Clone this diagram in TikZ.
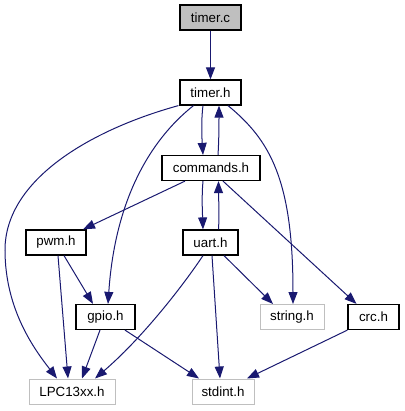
\documentclass[tikz,border=0pt]{standalone}
\usepackage{fontspec}
\setmainfont{Liberation Sans}
\usetikzlibrary{arrows.meta}
\definecolor{edgeblue}{HTML}{191970}
\definecolor{sysgray}{HTML}{BFBFBF}

\begin{document}
\begin{tikzpicture}[x=0.75pt,y=-0.75pt,
  hdr/.style={draw=black, line width=0.9pt, minimum height=18.75pt, inner sep=0pt,
              font=\fontsize{10}{12}\selectfont},
  syshdr/.style={hdr, draw=sysgray, line width=0.75pt},
  dep/.style={draw=edgeblue, line width=0.75pt, -{Triangle[length=9pt,width=6.75pt]}}]

\useasboundingbox (0,0) rectangle (404,411);

% headers and source file
\node[hdr, fill=sysgray, minimum width=45.75pt] (tc) at (210.5,17.5) {timer.c};
\node[hdr, minimum width=45.75pt] (th) at (210.5,92.5) {timer.h};
\node[hdr, minimum width=73.5pt] (cmd) at (211,168) {commands.h};
\node[hdr, minimum width=45pt] (pwm) at (56,242.5) {pwm.h};
\node[hdr, minimum width=41.25pt] (uart) at (210.5,242.5) {uart.h};
\node[hdr, minimum width=44.25pt] (gpio) at (105.5,317) {gpio.h};
\node[syshdr, minimum width=48pt] (str) at (292,317) {string.h};
\node[hdr, minimum width=38.25pt] (crc) at (373.5,317) {crc.h};
\node[syshdr, minimum width=64.5pt] (lpc) at (72,391.5) {LPC13xx.h};
\node[syshdr, minimum width=46.5pt] (sti) at (223,391.5) {stdint.h};

% include dependencies
\draw[dep] (tc.south) -- (th.north);
\draw[dep] ([shift={(-7.5,0)}]th.south) .. controls +(-2,15) and +(-1,-15) .. ([shift={(-8,0)}]cmd.north);
\draw[dep] ([shift={(7,0)}]cmd.north) .. controls +(1,-15) and +(0,15) .. ([shift={(8.5,0)}]th.south);
\draw[dep] ([shift={(-1,0)}]th.south west) .. controls (90,130) and (5,180) .. (5,250)
           .. controls (5,310) and (35,350) .. ([shift={(-15,0)}]lpc.north);
\draw[dep] ([shift={(-17,0)}]th.south) .. controls (150,140) and (115,200) .. ([shift={(2.5,0)}]gpio.north);
\draw[dep] ([shift={(17.5,0)}]th.south) .. controls (270,140) and (293,180) .. ([shift={(1,0)}]str.north);

\draw[dep] ([shift={(-26,0)}]cmd.south) -- ([shift={(27,0)}]pwm.north);
\draw[dep] ([shift={(-8,0)}]cmd.south) .. controls +(-1.5,15) and +(-0.5,-15) .. ([shift={(-7.5,0)}]uart.north);
\draw[dep] ([shift={(8,0)}]uart.north) .. controls +(1,-15) and +(0,15) .. ([shift={(7.5,0)}]cmd.south);
\draw[dep] ([shift={(12,0)}]cmd.south) -- ([shift={(-17,0)}]crc.north);

\draw[dep] ([shift={(8,0)}]pwm.south) -- ([shift={(-12.5,0)}]gpio.north);
\draw[dep] ([shift={(2,0)}]pwm.south) -- ([shift={(-4,0)}]lpc.north);

\draw[dep] ([shift={(-7.5,0)}]uart.south) .. controls (180,290) and (140,340) .. ([shift={(23,0)}]lpc.north);
\draw[dep] ([shift={(1.5,0)}]uart.south) -- ([shift={(-3,0)}]sti.north);
\draw[dep] ([shift={(13.5,0)}]uart.south) -- ([shift={(-19,0)}]str.north);

\draw[dep] ([shift={(-5.5,0)}]gpio.south) -- ([shift={(10,0)}]lpc.north);
\draw[dep] ([shift={(19.5,0)}]gpio.south) -- ([shift={(-24,0)}]sti.north);
\draw[dep] (crc.south west) -- ([shift={(24,0)}]sti.north);

\end{tikzpicture}
\end{document}
